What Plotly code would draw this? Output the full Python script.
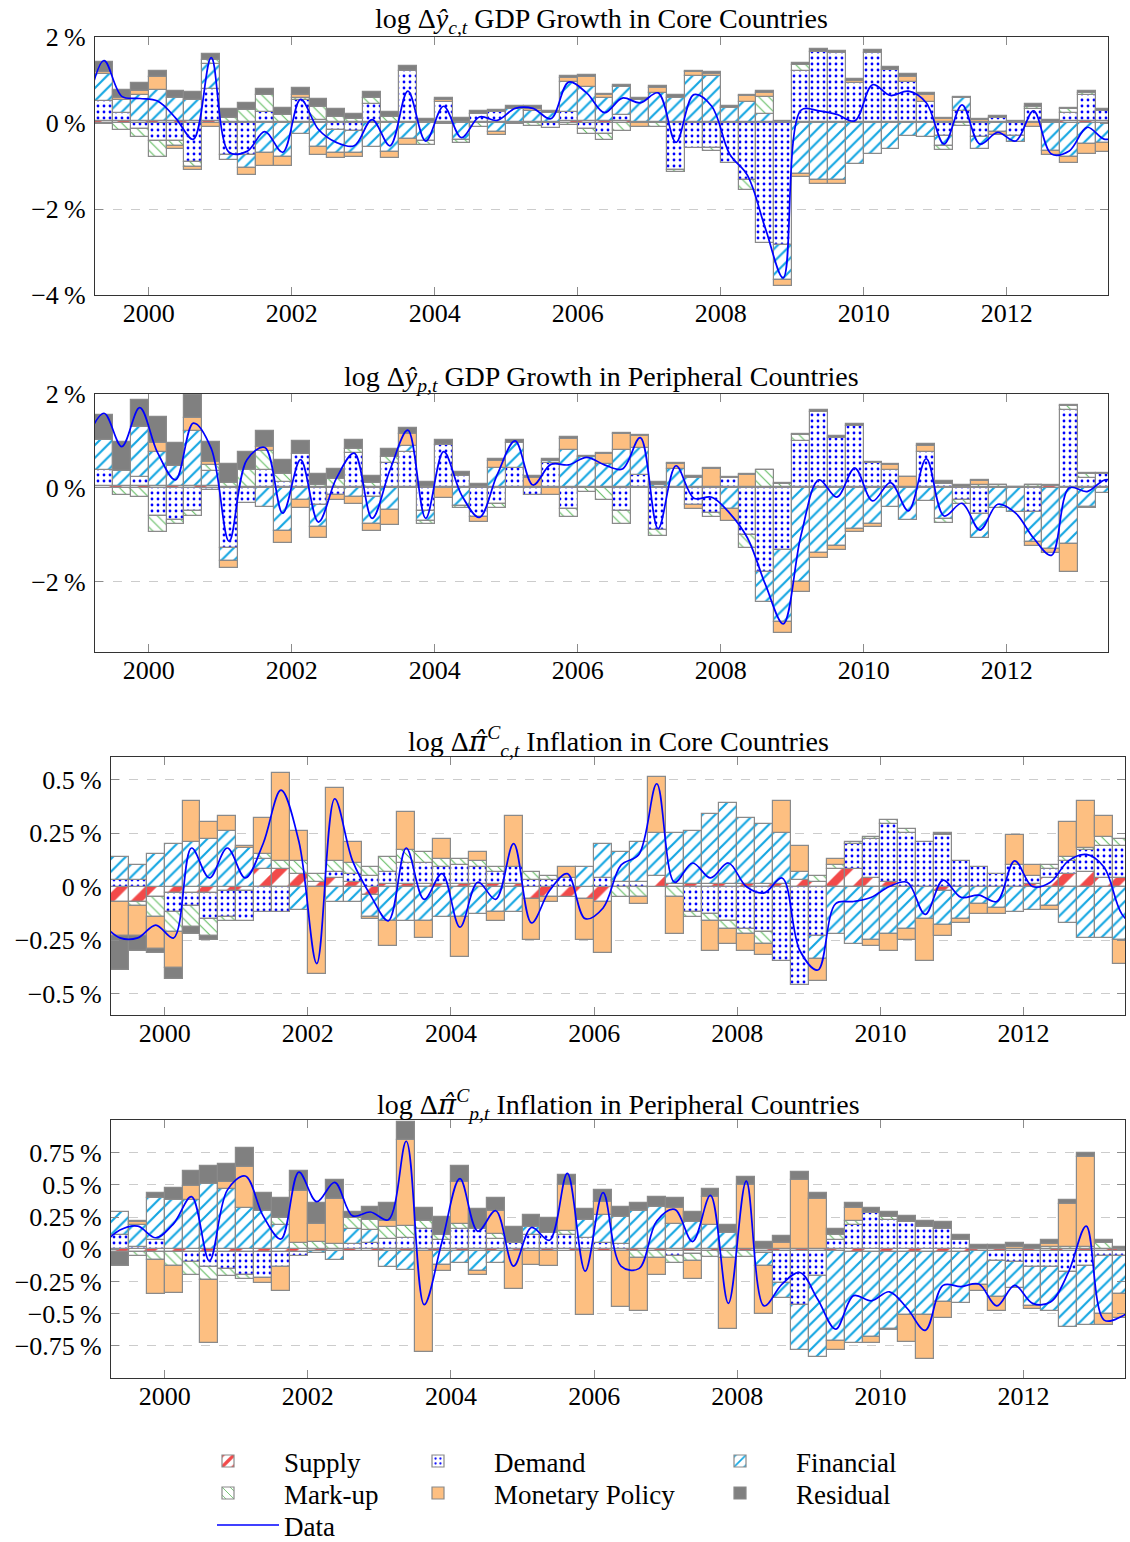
import pandas as pd
import plotly.graph_objects as go

SERIF = "Liberation Serif"
FIG_W, FIG_H = 1130, 1542

# Quarterly periods covered by the decomposition bars and by the observed series
QUARTERS = pd.period_range("1999Q2", "2013Q2", freq="Q")
LINE_QUARTERS = pd.period_range("1999Q1", "2013Q3", freq="Q")
X_MIN, X_MAX = 1999.25, 2013 + 5 / 12
YEAR_TICKS = [2000, 2002, 2004, 2006, 2008, 2010, 2012]

# ---------------- GDP growth, core countries (%) ----------------
GDP_CORE_SUPPLY = [0.05, 0.05, 0.05, 0.05, 0.05, 0.05, 0.05, 0.03, 0.02, 0.03,
                   0.03, 0.03, 0.03, 0.02, 0.02, 0.02, 0.02, 0.02, 0.02, 0.02,
                   0.02, 0.02, 0.02, 0.02, 0.03, 0.03, 0.04, 0.04, 0.04, 0.04,
                   0.02, 0.02, 0.02, 0.02, 0.02, 0.02, 0.02, 0.02, 0.02, 0.02,
                   0.02, 0.02, 0.02, 0.03, 0.03, 0.03, 0.03, 0.02, 0.02, 0.02,
                   0.02, 0.02, 0.02, 0.03, 0.04, 0.04, 0.04]
GDP_CORE_DEMAND = [0.46, 0.19, -0.14, -0.42, -0.42, -0.90, 0.75, -0.74, -0.74, 0.23,
                   0.00, 0.50, 0.05, -0.16, -0.18, 0.42, 0.00, 1.18, 0.00, 0.46,
                   0.00, 0.20, 0.23, 0.00, 0.00, -0.12, 0.22, -0.14, -0.25, 0.15,
                   0.00, 0.00, -1.10, -0.58, -0.58, -0.92, -1.33, -2.80, -2.84, 1.19,
                   1.64, 1.60, 0.92, 1.60, 1.21, 0.92, 0.47, -0.30, 0.27, -0.33,
                   0.10, -0.30, 0.31, 0.00, 0.19, 0.60, 0.23]
GDP_CORE_FINANCIAL = [0.64, 0.29, 0.59, 0.72, 0.54, 0.48, 0.58, -0.12, -0.31, -0.70,
                      -0.80, -0.25, -0.55, -0.54, -0.52, -0.55, -0.68, -0.38, -0.42, 0.00,
                      -0.40, 0.00, -0.20, 0.30, 0.25, 0.20, 0.70, 0.80, 0.54, 0.65,
                      0.52, 0.67, 0.57, 1.08, 1.07, 0.32, 0.48, 0.20, -0.81, -1.18,
                      -1.33, -1.33, -0.95, -0.72, -0.60, -0.30, -0.33, -0.23, 0.28, -0.27,
                      -0.20, -0.14, 0.00, -0.65, -0.80, -0.49, -0.47]
GDP_CORE_MARKUP = [-0.03, -0.16, -0.19, -0.38, -0.12, -0.12, 0.08, 0.09, 0.28, 0.38,
                   0.15, 0.05, 0.30, 0.13, 0.08, 0.14, 0.12, 0.00, -0.08, 0.00,
                   -0.07, -0.10, 0.00, 0.00, -0.06, 0.00, -0.05, -0.12, -0.15, -0.18,
                   0.00, -0.10, -0.04, 0.00, -0.08, 0.00, -0.23, 0.38, 0.00, 0.15,
                   0.00, 0.00, 0.00, 0.00, 0.00, 0.00, 0.00, -0.10, -0.06, 0.00,
                   0.00, 0.00, 0.05, 0.00, 0.09, 0.06, 0.00]
GDP_CORE_MONETARY = [0.03, 0.04, 0.10, 0.29, -0.06, -0.07, -0.09, 0.00, -0.17, -0.31,
                     -0.19, 0.08, -0.19, -0.12, -0.08, 0.00, -0.13, -0.12, 0.00, 0.05,
                     0.00, 0.00, -0.08, 0.00, 0.04, 0.00, 0.08, 0.22, 0.06, 0.00,
                     -0.10, 0.12, 0.00, 0.08, 0.06, 0.00, 0.12, 0.10, -0.15, -0.08,
                     -0.08, -0.08, 0.04, 0.00, 0.00, 0.13, 0.15, 0.07, 0.00, 0.04,
                     -0.08, 0.00, -0.10, -0.10, -0.13, -0.23, -0.21]
GDP_CORE_RESIDUAL = [0.23, 0.20, 0.19, 0.15, 0.16, 0.18, 0.15, 0.20, 0.17, 0.15,
                     0.17, 0.15, 0.17, 0.17, 0.12, 0.13, 0.12, 0.13, 0.08, 0.06,
                     0.10, 0.05, 0.06, 0.08, 0.08, 0.05, 0.06, 0.05, 0.03, 0.04,
                     0.04, 0.04, 0.05, 0.04, 0.03, 0.05, 0.03, 0.05, 0.03, 0.04,
                     0.05, 0.05, 0.05, 0.06, 0.06, 0.05, 0.04, 0.03, 0.04, 0.04,
                     0.04, 0.03, 0.06, 0.04, 0.04, 0.05, 0.05]
GDP_CORE_DATA = [0.20, 1.45, 0.62, 0.57, 0.51, 0.12, -0.38, 1.52, -0.68, -0.66, -0.20,
                 -0.68, 0.55, -0.15, -0.45, -0.53, 0.08, -0.53, 0.74, -0.42, 0.39,
                 -0.34, 0.14, 0.06, 0.34, 0.34, 0.10, 0.95, 0.70, 0.24, 0.58,
                 0.47, 0.70, -0.45, 0.66, 0.39, -0.72, -1.22, -2.45, -3.60, 0.30,
                 0.28, 0.20, 0.05, 0.89, 0.64, 0.74, 0.47, -0.49, 0.42, -0.49,
                 -0.22, -0.42, 0.28, -0.72, -0.65, -0.10, -0.38, -0.25]

# ---------------- GDP growth, peripheral countries (%) ----------------
GDP_PERI_SUPPLY = [0.04, 0.04, 0.04, 0.04, 0.04, 0.04, 0.04, 0.02, 0.02, 0.02,
                   0.02, 0.02, 0.02, 0.02, 0.02, 0.02, 0.02, 0.02, 0.02, 0.02,
                   0.02, 0.02, 0.02, 0.02, 0.02, 0.02, 0.02, 0.02, 0.02, 0.02,
                   0.02, 0.02, 0.02, 0.02, 0.02, 0.02, 0.02, 0.02, 0.02, 0.02,
                   0.02, 0.02, 0.02, 0.02, 0.02, 0.02, 0.02, 0.02, 0.02, 0.02,
                   0.02, 0.01, 0.01, 0.03, 0.02, 0.02, 0.02]
GDP_PERI_DEMAND = [0.35, 0.00, 0.20, -0.60, -0.68, -0.50, -0.05, -1.28, -0.33, 0.35,
                   0.10, 0.70, -0.36, -0.15, 0.72, -0.20, 0.51, 0.74, -0.50, 0.90,
                   0.24, -0.63, -0.35, 0.41, -0.15, 0.50, -0.45, 0.00, 0.00, -0.50,
                   0.25, -0.90, 0.00, -0.36, -0.53, 0.20, -1.00, -1.80, -1.33, 0.98,
                   1.60, 1.05, 1.30, 0.50, 0.37, 0.00, 0.75, 0.07, -0.25, -0.55,
                   0.00, 0.00, -0.52, 0.00, 1.63, 0.20, 0.27]
GDP_PERI_FINANCIAL = [0.62, 0.32, 1.06, 0.73, 0.42, 1.17, 0.32, -0.28, 0.00, -0.40,
                      -0.93, -0.27, -0.48, 0.00, -0.20, -0.57, -0.48, 0.14, -0.21, 0.00,
                      -0.38, 0.00, 0.41, 0.52, 0.00, 0.06, 0.78, 0.64, 0.48, 0.79,
                      0.57, 0.05, 0.39, 0.20, 0.00, -0.45, 0.00, -0.64, -1.52, -2.00,
                      -1.40, -1.23, -0.87, -0.77, -0.41, -0.69, -0.29, -0.66, 0.00, -0.53,
                      -0.43, -0.52, -0.64, -1.30, -1.19, -0.40, -0.10]
GDP_PERI_MARKUP = [0.00, -0.16, -0.20, -0.35, -0.10, -0.10, 0.12, 0.08, 0.35, 0.42,
                   0.18, 0.00, 0.04, 0.16, 0.09, 0.08, 0.13, 0.00, -0.07, 0.00,
                   -0.05, 0.00, -0.07, 0.00, 0.00, 0.00, -0.18, -0.08, -0.25, -0.28,
                   0.00, -0.12, 0.00, 0.00, -0.10, 0.00, -0.28, 0.35, 0.06, 0.12,
                   0.00, 0.00, 0.00, 0.00, 0.00, 0.00, 0.00, -0.09, -0.10, 0.05,
                   0.04, 0.00, 0.04, 0.00, 0.09, 0.07, 0.00]
GDP_PERI_MONETARY = [0.00, 0.00, 0.00, 0.19, 0.00, 0.28, 0.07, -0.14, 0.00, 0.09,
                     -0.25, -0.16, -0.24, -0.10, -0.14, -0.14, -0.32, 0.25, 0.00, -0.22,
                     0.00, -0.10, 0.14, 0.00, 0.18, -0.15, 0.25, 0.00, 0.23, 0.34,
                     0.26, 0.00, 0.09, -0.10, 0.38, -0.25, 0.25, 0.00, -0.25, -0.23,
                     -0.09, -0.10, -0.07, -0.06, 0.10, 0.21, 0.13, 0.00, 0.00, 0.07,
                     0.00, 0.00, -0.07, -0.10, -0.60, -0.04, 0.00]
GDP_PERI_RESIDUAL = [0.55, 0.62, 0.58, 0.55, 0.49, 0.48, 0.43, 0.41, 0.39, 0.34,
                     0.30, 0.28, 0.23, 0.22, 0.19, 0.16, 0.16, 0.13, 0.10, 0.09,
                     0.08, 0.06, 0.05, 0.07, 0.05, 0.04, 0.03, 0.02, 0.02, 0.02,
                     0.02, 0.05, 0.03, 0.03, 0.02, 0.02, 0.02, 0.02, 0.02, 0.02,
                     0.04, 0.03, 0.03, 0.04, 0.02, 0.01, 0.04, 0.05, 0.03, 0.02,
                     0.01, 0.01, 0.02, 0.02, 0.03, 0.02, 0.02]
GDP_PERI_DATA = [1.00, 1.59, 0.88, 1.71, 0.75, 0.17, 1.38, 0.84, -1.14, 0.60, 0.86,
                 -0.54, 0.60, -0.73, 0.20, 0.74, -0.65, 0.38, 1.23, -0.65, 0.77,
                 -0.15, -0.63, 0.28, 1.00, 0.06, 0.50, 0.49, 0.65, 0.49, 0.40,
                 1.07, -0.87, 0.47, -0.22, -0.20, -0.54, -1.07, -2.06, -2.90, -1.00,
                 0.17, -0.20, 0.42, -0.28, 0.11, -0.49, 0.62, -0.60, -0.33, -0.90,
                 -0.35, -0.54, -1.07, -1.44, 0.00, -0.08, 0.17, 0.10]

# ---------------- Inflation, core countries (%) ----------------
INF_CORE_SUPPLY = [-0.07, -0.07, -0.05, -0.03, -0.03, -0.03, -0.02, -0.02, 0.08, 0.08,
                   0.06, 0.02, 0.04, 0.02, -0.04, 0.01, 0.01, 0.01, 0.01, 0.01,
                   0.01, 0.01, 0.01, -0.06, -0.05, -0.05, -0.06, -0.07, 0.00, 0.00,
                   0.05, 0.01, 0.01, 0.01, 0.01, 0.01, 0.01, 0.01, 0.03, 0.02,
                   0.08, 0.08, 0.04, 0.02, 0.00, 0.00, -0.02, 0.00, 0.00, 0.00,
                   0.00, 0.01, 0.04, 0.06, 0.07, 0.04, 0.04]
INF_CORE_DEMAND = [0.03, 0.03, 0.00, -0.09, -0.06, -0.12, -0.12, -0.14, -0.12, -0.12,
                   0.00, 0.00, 0.03, 0.04, 0.05, 0.06, 0.10, 0.10, 0.08, 0.09,
                   0.08, 0.06, 0.08, 0.03, 0.03, 0.04, 0.00, 0.04, 0.02, 0.02,
                   0.00, 0.00, -0.12, -0.13, -0.16, -0.20, -0.21, -0.35, -0.46, -0.23,
                   0.00, 0.12, 0.18, 0.27, 0.25, 0.21, 0.24, 0.12, 0.09, 0.06,
                   0.10, 0.04, 0.04, 0.06, 0.10, 0.15, 0.15]
INF_CORE_FINANCIAL = [0.11, 0.07, 0.15, 0.20, 0.21, 0.22, 0.26, 0.18, 0.05, 0.00,
                      -0.11, 0.00, -0.07, -0.07, -0.10, -0.16, -0.16, -0.16, -0.14, -0.14,
                      -0.13, -0.12, -0.12, 0.00, 0.00, 0.00, 0.09, 0.16, 0.14, 0.19,
                      0.20, 0.24, 0.25, 0.33, 0.38, 0.31, 0.28, 0.24, 0.04, -0.11,
                      -0.22, -0.27, -0.25, -0.22, -0.20, -0.15, -0.16, -0.15, -0.08, -0.10,
                      -0.12, -0.11, -0.09, -0.17, -0.24, -0.24, -0.25]
INF_CORE_MARKUP = [0.00, -0.02, -0.09, -0.09, -0.10, -0.08, -0.02, 0.00, 0.02, 0.04,
                   0.06, 0.04, 0.05, 0.05, 0.04, 0.07, 0.06, 0.05, 0.04, 0.03,
                   0.03, 0.02, 0.00, 0.04, 0.02, 0.00, 0.00, 0.00, -0.05, -0.05,
                   0.00, -0.05, -0.02, -0.03, -0.04, -0.02, -0.06, 0.00, 0.00, 0.03,
                   0.02, 0.01, 0.01, 0.02, 0.02, 0.00, 0.00, 0.00, 0.00, 0.00,
                   0.00, 0.00, 0.02, 0.02, 0.01, 0.04, 0.03]
INF_CORE_MONETARY = [-0.16, -0.14, -0.15, -0.17, 0.19, 0.08, 0.07, 0.01, 0.17, 0.41,
                     0.14, -0.41, 0.34, 0.10, -0.01, -0.12, 0.18, -0.08, 0.09, -0.19,
                     0.04, -0.04, 0.24, -0.19, -0.02, 0.05, -0.19, -0.24, 0.00, -0.03,
                     0.26, -0.17, 0.00, -0.14, -0.07, -0.08, -0.05, 0.15, 0.12, -0.10,
                     0.03, 0.00, -0.03, -0.08, -0.05, -0.20, -0.05, -0.02, -0.05, -0.03,
                     0.14, 0.05, -0.02, 0.16, 0.22, 0.10, -0.11]
INF_CORE_RESIDUAL = [-0.16, -0.07, -0.02, -0.05, -0.03, -0.02, 0.00, 0.00, 0.00, 0.00,
                     0.00, 0.00, 0.00, 0.00, 0.00, 0.00, 0.00, 0.00, 0.00, 0.00,
                     0.00, 0.00, 0.00, 0.00, 0.00, 0.00, 0.00, 0.00, 0.00, 0.00,
                     0.00, 0.00, 0.00, 0.00, 0.00, 0.00, 0.00, 0.00, 0.00, 0.00,
                     0.00, 0.00, 0.00, 0.00, 0.00, 0.00, 0.01, 0.00, 0.00, 0.00,
                     0.00, 0.00, 0.00, 0.00, 0.00, 0.00, 0.00]
INF_CORE_DATA = [-0.17, -0.24, -0.24, -0.18, -0.24, 0.18, 0.04, 0.18, 0.04, 0.20, 0.45,
                 0.21, -0.36, 0.41, 0.12, -0.04, -0.16, 0.18, -0.06, 0.06, -0.19,
                 0.02, -0.06, 0.20, -0.17, -0.02, 0.06, -0.15, -0.10, 0.10, 0.15,
                 0.48, 0.02, 0.11, 0.04, 0.11, 0.00, -0.03, 0.04, -0.30, -0.39,
                 -0.08, -0.07, -0.05, 0.00, 0.02, -0.13, 0.03, -0.05, -0.04, -0.07,
                 0.12, 0.00, 0.02, 0.12, 0.15, 0.09, -0.13, -0.20]

# ---------------- Inflation, peripheral countries (%) ----------------
INF_PERI_SUPPLY = [-0.02, -0.02, -0.02, -0.02, -0.02, -0.02, -0.02, -0.02, -0.02, -0.02,
                   -0.02, -0.01, -0.01, -0.01, -0.01, -0.01, -0.01, -0.01, -0.01, -0.01,
                   -0.01, -0.01, -0.01, -0.01, -0.01, -0.01, -0.01, -0.01, -0.01, -0.01,
                   -0.01, -0.01, -0.01, -0.01, -0.01, -0.01, -0.01, -0.01, -0.01, -0.01,
                   -0.01, -0.02, -0.02, -0.02, -0.02, -0.02, -0.02, -0.02, -0.01, -0.01,
                   -0.01, -0.01, -0.01, -0.01, -0.01, -0.01, -0.01]
INF_PERI_DEMAND = [0.11, 0.02, 0.07, 0.00, -0.08, -0.12, -0.13, -0.18, -0.20, -0.12,
                   -0.03, 0.00, 0.00, 0.04, 0.05, 0.08, 0.09, 0.16, 0.07, 0.16,
                   0.16, 0.08, 0.05, 0.11, 0.13, 0.11, 0.09, 0.05, 0.04, 0.00,
                   0.00, -0.04, -0.03, 0.00, 0.00, 0.00, -0.02, -0.25, -0.42, -0.20,
                   0.07, 0.19, 0.28, 0.23, 0.21, 0.17, 0.16, 0.07, 0.00, -0.08,
                   -0.09, -0.13, -0.13, -0.17, -0.12, -0.04, -0.04]
INF_PERI_FINANCIAL = [0.18, 0.17, 0.33, 0.38, 0.38, 0.51, 0.47, 0.32, 0.30, 0.19,
                      0.00, -0.02, -0.07, 0.12, 0.10, -0.13, -0.15, 0.00, -0.11, -0.10,
                      -0.16, -0.10, 0.00, 0.06, 0.00, 0.00, 0.14, 0.22, 0.21, 0.30,
                      0.33, 0.20, 0.21, 0.19, 0.13, 0.00, -0.10, -0.12, -0.35, -0.63,
                      -0.70, -0.71, -0.66, -0.60, -0.49, -0.49, -0.39, -0.40, -0.27, -0.28,
                      -0.20, -0.30, -0.34, -0.42, -0.46, -0.45, -0.30]
INF_PERI_MARKUP = [0.00, -0.03, -0.06, -0.11, -0.10, -0.10, -0.06, -0.03, 0.00, 0.05,
                   0.05, 0.06, 0.04, 0.08, 0.08, 0.09, 0.09, 0.06, 0.04, 0.04,
                   0.00, 0.04, 0.00, 0.00, 0.00, 0.03, 0.00, 0.00, 0.00, -0.06,
                   -0.06, -0.06, -0.05, -0.05, -0.06, -0.05, 0.00, 0.00, 0.00, 0.00,
                   0.04, 0.03, 0.00, 0.02, 0.00, 0.00, 0.00, 0.00, 0.00, 0.00,
                   0.00, 0.00, 0.02, 0.02, 0.02, 0.05, 0.00]
INF_PERI_MONETARY = [0.00, 0.02, -0.27, -0.21, 0.11, -0.49, 0.05, 0.32, -0.04, -0.18,
                     0.40, 0.14, 0.35, 0.00, 0.00, 0.05, 0.67, -0.79, -0.05, 0.32,
                     -0.03, 0.18, -0.30, -0.11, -0.12, 0.36, -0.50, 0.10, -0.44, -0.41,
                     -0.13, 0.12, -0.14, 0.22, -0.55, 0.50, -0.37, 0.05, 0.54, 0.39,
                     -0.07, 0.10, -0.05, -0.01, -0.21, -0.34, -0.12, 0.00, -0.04, -0.11,
                     0.02, -0.02, 0.02, 0.33, 0.70, -0.09, -0.18]
INF_PERI_RESIDUAL = [-0.11, 0.01, 0.04, 0.10, 0.12, 0.14, 0.14, 0.15, 0.14, 0.16,
                     0.16, 0.16, 0.15, 0.05, 0.10, 0.14, 0.14, 0.10, 0.14, 0.13,
                     0.15, 0.10, 0.12, 0.10, 0.11, 0.08, 0.08, 0.09, 0.08, 0.06,
                     0.08, 0.08, 0.08, 0.06, 0.06, 0.06, 0.06, 0.05, 0.06, 0.05,
                     0.05, 0.04, 0.04, 0.04, 0.05, 0.05, 0.05, 0.04, 0.03, 0.03,
                     0.03, 0.03, 0.03, 0.03, 0.03, 0.02, 0.02]
INF_PERI_DATA = [0.03, 0.15, 0.18, 0.09, 0.20, 0.41, -0.09, 0.46, 0.57, 0.26, 0.08,
                 0.60, 0.37, 0.52, 0.26, 0.29, 0.23, 0.84, -0.43, 0.06, 0.55,
                 0.14, 0.30, -0.13, 0.17, 0.07, 0.59, -0.17, 0.44, -0.13, -0.15,
                 0.22, 0.31, 0.06, 0.42, -0.42, 0.53, -0.44, -0.27, -0.18, -0.39,
                 -0.62, -0.36, -0.40, -0.33, -0.46, -0.63, -0.28, -0.29, -0.27, -0.44,
                 -0.28, -0.42, -0.41, -0.18, 0.18, -0.55, -0.52, -0.40]

# ---------------- styling ----------------
OUTLINE = "#8a8a8a"
LEGEND_FONT = 27
# legend cell: (text left edge in px, row centre in px)
COMPONENTS = [  # stacking order of the shocks, closest to zero first
    dict(name="Supply", key="supply", legend="legend", cell=(284, 1461), color="white",
         pattern=dict(shape="/", fgcolor="#F24A4A", bgcolor="white", size=20, solidity=0.42)),
    dict(name="Demand", key="demand", legend="legend2", cell=(494, 1461), color="white",
         pattern=dict(shape=".", fgcolor="#0000FF", bgcolor="white", size=6, solidity=0.17)),
    dict(name="Financial", key="financial", legend="legend3", cell=(796, 1461), color="white",
         pattern=dict(shape="/", fgcolor="#14A6E2", bgcolor="white", size=9, solidity=0.24)),
    dict(name="Mark-up", key="markup", legend="legend4", cell=(284, 1493), color="white",
         pattern=dict(shape="\\", fgcolor="#5DBB5D", bgcolor="white", size=7, solidity=0.15)),
    dict(name="Monetary Policy", key="monetary", legend="legend5", cell=(494, 1493),
         color="#FDBF81", pattern=None),
    dict(name="Residual", key="residual", legend="legend6", cell=(796, 1493),
         color="#808080", pattern=None),
]
DATA_LEGEND = dict(legend="legend7", cell=(284, 1525))

HAT_PI = '<span style="font-family:DejaVu Serif"><i>π̂</i></span>'
PANELS = [
    dict(title="log Δ<i>ŷ</i><sub><i>c,t</i></sub> GDP Growth in Core Countries",
         px=(95, 1108), py=(37, 295), yrange=[-4, 2], yticks=[-4, -2, 0, 2],
         series=dict(supply=GDP_CORE_SUPPLY, demand=GDP_CORE_DEMAND, financial=GDP_CORE_FINANCIAL,
                     markup=GDP_CORE_MARKUP, monetary=GDP_CORE_MONETARY, residual=GDP_CORE_RESIDUAL),
         data=GDP_CORE_DATA),
    dict(title="log Δ<i>ŷ</i><sub><i>p,t</i></sub> GDP Growth in Peripheral Countries",
         px=(95, 1108), py=(394, 652), yrange=[-3.5, 2], yticks=[-2, 0, 2],
         series=dict(supply=GDP_PERI_SUPPLY, demand=GDP_PERI_DEMAND, financial=GDP_PERI_FINANCIAL,
                     markup=GDP_PERI_MARKUP, monetary=GDP_PERI_MONETARY, residual=GDP_PERI_RESIDUAL),
         data=GDP_PERI_DATA),
    dict(title="log Δ" + HAT_PI + "<sup><i>C</i></sup><sub><i>c,t</i></sub> Inflation in Core Countries",
         px=(111, 1125), py=(757, 1015), yrange=[-0.6, 0.605], yticks=[-0.5, -0.25, 0, 0.25, 0.5],
         series=dict(supply=INF_CORE_SUPPLY, demand=INF_CORE_DEMAND, financial=INF_CORE_FINANCIAL,
                     markup=INF_CORE_MARKUP, monetary=INF_CORE_MONETARY, residual=INF_CORE_RESIDUAL),
         data=INF_CORE_DATA),
    dict(title="log Δ" + HAT_PI + "<sup><i>C</i></sup><sub><i>p,t</i></sub> Inflation in Peripheral Countries",
         px=(111, 1125), py=(1120, 1378), yrange=[-1.0, 1.005],
         yticks=[-0.75, -0.5, -0.25, 0, 0.25, 0.5, 0.75],
         series=dict(supply=INF_PERI_SUPPLY, demand=INF_PERI_DEMAND, financial=INF_PERI_FINANCIAL,
                     markup=INF_PERI_MARKUP, monetary=INF_PERI_MONETARY, residual=INF_PERI_RESIDUAL),
         data=INF_PERI_DATA),
]


def quarter_mid(periods):
    return [p.year + (p.quarter - 0.5) / 4 for p in periods]


def pct_label(v):
    return ("\u2212" if v < 0 else "") + f"{abs(v):g}" + "\u2009%"


def legend_box(cell, itemwidth):
    """Single-entry legend whose text starts at cell[0] and is centred on row cell[1]."""
    text_x, row_y = cell
    item_h = LEGEND_FONT * 1.3 + 3
    top = row_y - 5 - item_h / 2
    return dict(orientation="v", font=dict(family=SERIF, size=LEGEND_FONT, color="black"),
                bgcolor="rgba(0,0,0,0)", borderwidth=0, itemwidth=itemwidth,
                xanchor="left", yanchor="top",
                x=(text_x - itemwidth - 10) / FIG_W, y=1 - top / FIG_H)


bar_x = quarter_mid(QUARTERS)
line_x = quarter_mid(LINE_QUARTERS)

fig = go.Figure()
layout_extra = {}
annotations = []
tick_font = dict(family=SERIF, size=26, color="black")

for i, panel in enumerate(PANELS, start=1):
    sfx = "" if i == 1 else str(i)
    for comp in COMPONENTS:
        values = panel["series"][comp["key"]]
        marker = dict(color=comp["color"], line=dict(color=OUTLINE, width=1.2))
        if comp["pattern"]:
            marker["pattern"] = dict(fillmode="replace", **comp["pattern"])
        fig.add_trace(go.Bar(
            x=bar_x, y=[v if v != 0 else None for v in values], width=0.25,
            name=comp["name"], legend=comp["legend"], showlegend=(i == 1),
            marker=marker, xaxis="x" + sfx, yaxis="y" + sfx, hoverinfo="skip"))
    fig.add_trace(go.Scatter(
        x=line_x, y=panel["data"], mode="lines", name="Data", legend=DATA_LEGEND["legend"],
        showlegend=(i == 1), line=dict(color="#0000FF", width=1.7, shape="spline", smoothing=1.0),
        xaxis="x" + sfx, yaxis="y" + sfx, hoverinfo="skip"))

    x0, x1 = panel["px"]
    y0, y1 = panel["py"]
    layout_extra["xaxis" + sfx] = dict(
        domain=[x0 / FIG_W, x1 / FIG_W], range=[X_MIN, X_MAX], anchor="y" + sfx,
        tickvals=YEAR_TICKS, ticktext=[str(y) for y in YEAR_TICKS],
        ticks="inside", ticklen=8, tickwidth=1, tickcolor="#8c8c8c",
        showline=True, linecolor="#333333", linewidth=1.2, mirror="ticks",
        showgrid=False, zeroline=False, tickfont=tick_font, ticklabelstandoff=-5)
    layout_extra["yaxis" + sfx] = dict(
        domain=[1 - y1 / FIG_H, 1 - y0 / FIG_H], range=panel["yrange"], anchor="x" + sfx,
        tickvals=panel["yticks"], ticktext=[pct_label(v) for v in panel["yticks"]],
        ticks="inside", ticklen=8, tickwidth=1, tickcolor="#8c8c8c",
        showline=True, linecolor="#333333", linewidth=1.2, mirror="ticks",
        showgrid=True, gridcolor="#cccccc", gridwidth=1, griddash="dash",
        zeroline=True, zerolinecolor=OUTLINE, zerolinewidth=1.2,
        tickfont=tick_font, ticklabelstandoff=3)
    annotations.append(dict(
        text=panel["title"], xref="paper", yref="paper",
        x=(x0 + x1) / 2 / FIG_W, y=1 - (y0 - 16) / FIG_H,
        xanchor="center", yanchor="middle", showarrow=False,
        font=dict(family=SERIF, size=28, color="black")))

for comp in COMPONENTS:
    layout_extra[comp["legend"]] = legend_box(comp["cell"], 102)
layout_extra[DATA_LEGEND["legend"]] = legend_box(DATA_LEGEND["cell"], 62)

fig.update_layout(
    width=FIG_W, height=FIG_H, margin=dict(l=0, r=0, t=0, b=0, autoexpand=False),
    paper_bgcolor="white", plot_bgcolor="white",
    barmode="relative", bargap=0,
    annotations=annotations,
    **layout_extra)

fig.write_html("out.html")
